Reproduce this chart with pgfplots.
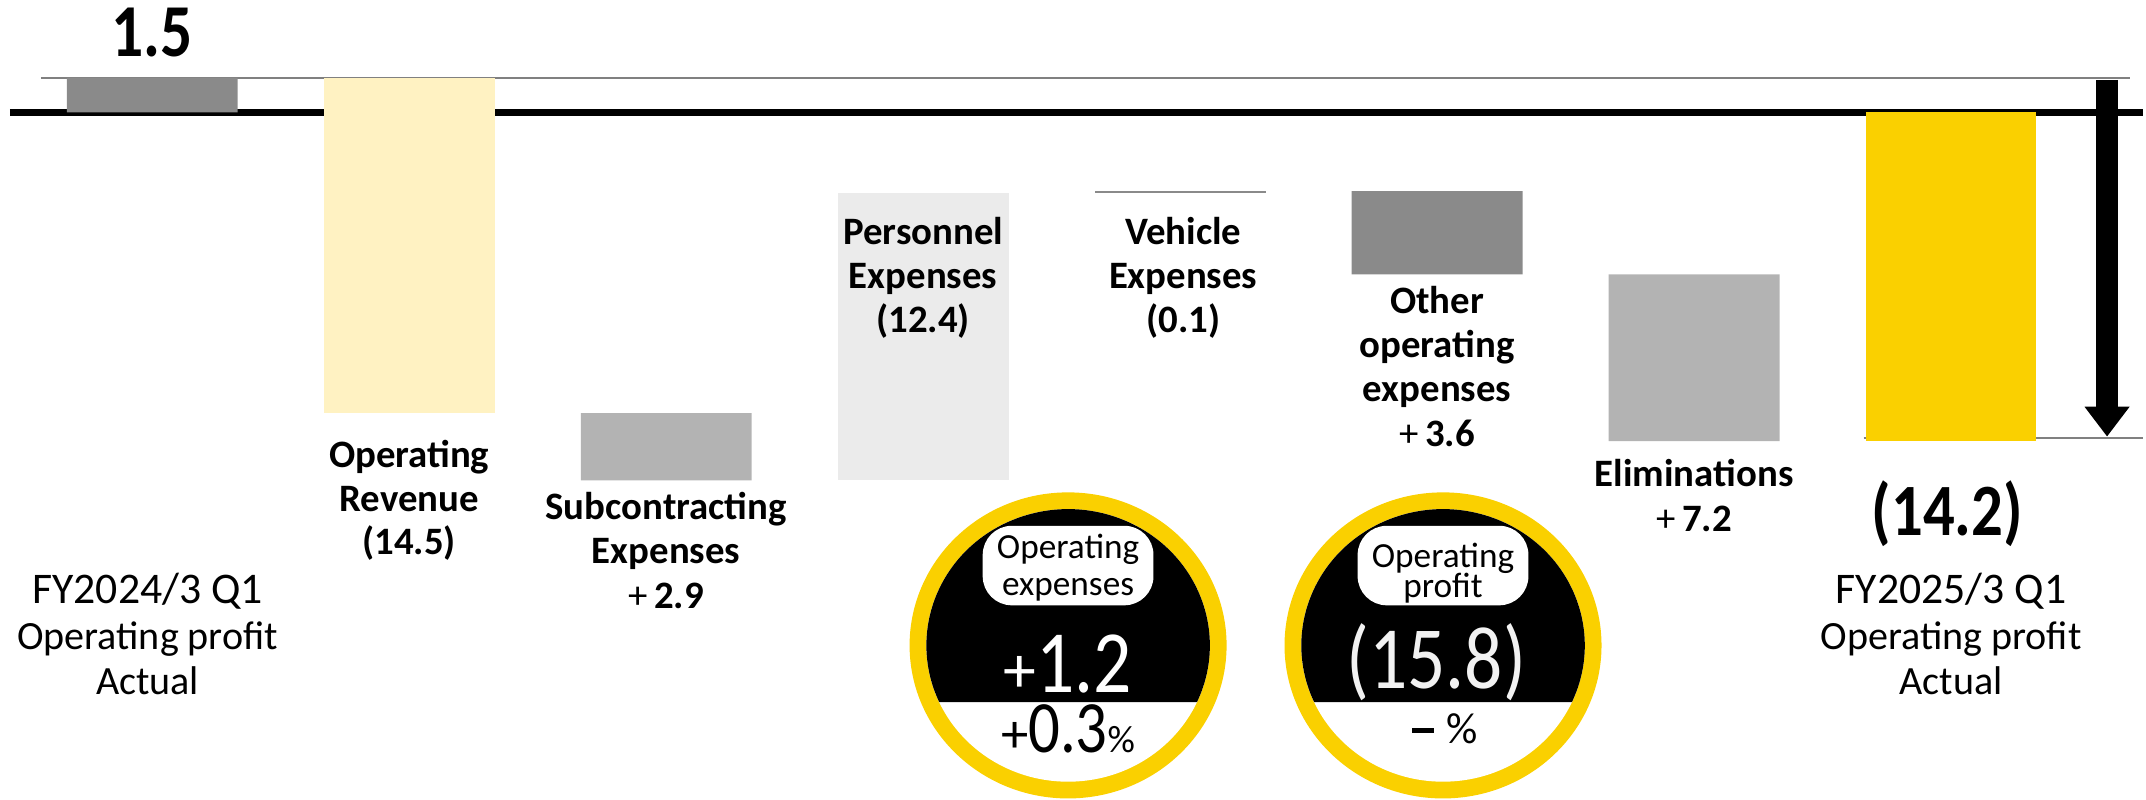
\documentclass[border=0pt]{standalone}
\usepackage{fontspec}
\setmainfont{Carlito}
\newfontfamily\narrowfont[FakeStretch=0.85]{Carlito}
\usepackage{pgfplots}
\pgfplotsset{compat=1.18}
\usetikzlibrary{arrows.meta}

\definecolor{dgray}{HTML}{8A8A8A}
\definecolor{mgray}{HTML}{B3B3B3}
\definecolor{lgray}{HTML}{EBEBEB}
\definecolor{lyellow}{HTML}{FFF2C2}
\definecolor{yel}{HTML}{FAD000}
\definecolor{linegray}{HTML}{808080}
\definecolor{offwhite}{HTML}{F2F2F2}

\begin{document}
\begin{tikzpicture}[
  lab/.style={anchor=base, font=\fontsize{21.3pt}{25pt}\selectfont\bfseries},
  fyl/.style={anchor=base, font=\fontsize{24pt}{28pt}\selectfont},
  opl/.style={anchor=base, font=\fontsize{22pt}{26pt}\selectfont},
  pill/.style={anchor=base, inner sep=0pt, font=\fontsize{19.35pt}{23pt}\selectfont},
]
\begin{axis}[
  width=1176pt, height=438.75pt, scale only axis,
  xmin=0.4077, xmax=8.745, ymin=-29.68, ymax=4.852,
  hide axis, clip=false,
  ybar stacked, bar width=93.75pt,
]
% invisible base (top end of each floating bar below zero)
\addplot[draw=none, fill=none] coordinates {(1,0)(2,0)(3,-13.0)(4,-3.5)(5,-3.4)(6,-3.4)(7,-7.0)(8,0)};
% FY2024/3 Q1 actual 1.5, other operating expenses +3.6
\addplot[draw=none, fill=dgray] coordinates {(1,1.5)(2,0)(3,0)(4,0)(5,0)(6,-3.6)(7,0)(8,0)};
% operating revenue (14.5): from 1.5 down to -13.0
\addplot[draw=none, fill=lyellow] coordinates {(1,0)(2,1.5)(3,0)(4,0)(5,0)(6,0)(7,0)(8,0)};
\addplot[draw=none, fill=lyellow] coordinates {(1,0)(2,-13.0)(3,0)(4,0)(5,0)(6,0)(7,0)(8,0)};
% subcontracting +2.9, eliminations +7.2
\addplot[draw=none, fill=mgray] coordinates {(1,0)(2,0)(3,-2.9)(4,0)(5,0)(6,0)(7,-7.2)(8,0)};
% personnel (12.4)
\addplot[draw=none, fill=lgray] coordinates {(1,0)(2,0)(3,0)(4,-12.4)(5,0)(6,0)(7,0)(8,0)};
% vehicle (0.1)
\addplot[draw=none, fill=dgray] coordinates {(1,0)(2,0)(3,0)(4,0)(5,-0.1)(6,0)(7,0)(8,0)};
% FY2025/3 Q1 actual (14.2)
\addplot[draw=none, fill=yel] coordinates {(1,0)(2,0)(3,0)(4,0)(5,0)(6,0)(7,0)(8,-14.2)};

% reference lines and arrow
\draw[linegray, line width=1.1pt] (axis cs:0.5667,1.5) -- (axis cs:8.697,1.5);
\draw[black, line width=3.84pt] (axis cs:0.446,0) -- (axis cs:8.745,0);
\draw[linegray, line width=1.1pt] (axis cs:7.66,-14.05) -- (axis cs:8.745,-14.05);
\draw[black, line width=11.8pt, -{Triangle[width=23.6pt,length=16.4pt]}] (axis cs:8.607,1.40) -- (axis cs:8.607,-14.01);

% values and labels
\node[anchor=base, font=\narrowfont\fontsize{41pt}{48pt}\selectfont\bfseries] at (axis cs:1,2.41) {1.5};
\node[lab] at (axis cs:2,-15.34) {Operating};
\node[lab] at (axis cs:2,-17.23) {Revenue};
\node[lab] at (axis cs:2,-19.11) {(14.5)};
\node[lab] at (axis cs:3,-17.60) {Subcontracting};
\node[lab] at (axis cs:3,-19.51) {Expenses};
\node[lab] at (axis cs:3,-21.43) {{\mdseries+}\,2.9};
\node[lab] at (axis cs:5.012,-5.71) {Vehicle};
\node[lab] at (axis cs:5.012,-7.59) {Expenses};
\node[lab] at (axis cs:5.012,-9.53) {(0.1)};
\node[lab] at (axis cs:6,-8.67) {Other};
\node[lab] at (axis cs:6,-10.59) {operating};
\node[lab] at (axis cs:6,-12.50) {expenses};
\node[lab] at (axis cs:6,-14.42) {{\mdseries+}\,3.6};
\node[lab] at (axis cs:7,-16.16) {Eliminations};
\node[lab] at (axis cs:7,-18.09) {{\mdseries+}\,7.2};
\node[anchor=base, font=\narrowfont\fontsize{40.5pt}{48pt}\selectfont\bfseries] at (axis cs:7.985,-18.29) {(14.2)};

\node[fyl] at (axis cs:0.982,-21.2) {FY2024/3 Q1};
\node[opl] at (axis cs:0.982,-23.19) {Operating profit};
\node[opl] at (axis cs:0.982,-25.14) {Actual};
\node[fyl] at (axis cs:8.0,-21.2) {FY2025/3 Q1};
\node[opl] at (axis cs:8.0,-23.19) {Operating profit};
\node[opl] at (axis cs:8.0,-25.14) {Actual};

% points used after the axis (text over the personnel bar, badges)
\coordinate (pers) at (axis cs:4,-5.71);
\coordinate (b1) at (axis cs:4.564,-23.03);
\coordinate (b2) at (axis cs:6.023,-23.03);

\path (rel axis cs:0,0) rectangle (rel axis cs:1,1);
\end{axis}

% label lying on the personnel bar
\node[lab] at (pers) {Personnel};
\node[lab] at ([yshift=-23.89pt]pers) {Expenses};
\node[lab] at ([yshift=-48.54pt]pers) {(12.4)};

% badge: operating expenses
\fill[yel] (b1) ellipse [x radius=87pt, y radius=84pt];
\fill[white] (b1) ellipse [x radius=77.8pt, y radius=74.8pt];
\fill[black] (b1) ++(70.74pt,-31.13pt) arc[start angle=-24.6, end angle=204.6, x radius=77.8pt, y radius=74.8pt] -- cycle;
\node[fill=white, rounded corners=16pt, minimum width=93.75pt, minimum height=43.65pt, inner sep=0pt] at ([yshift=43.83pt]b1) {};
\node[pill] at ([yshift=47.52pt]b1) {Operating};
\node[pill] at ([yshift=27.32pt]b1) {expenses};
\node[anchor=base, inner sep=0pt, text=white] at ([yshift=-25.66pt]b1) {{\fontsize{36pt}{40pt}\selectfont+}{\narrowfont\fontsize{48.75pt}{56pt}\selectfont 1.2}};
\node[anchor=base, inner sep=0pt] at ([yshift=-58.57pt]b1) {{\fontsize{30pt}{34pt}\selectfont+}{\narrowfont\fontsize{40.5pt}{46pt}\selectfont 0.3}{\fontsize{21pt}{24pt}\selectfont\%}};

% badge: operating profit
\fill[yel] (b2) ellipse [x radius=87pt, y radius=84pt];
\fill[white] (b2) ellipse [x radius=77.8pt, y radius=74.8pt];
\fill[black] (b2) ++(70.74pt,-31.13pt) arc[start angle=-24.6, end angle=204.6, x radius=77.8pt, y radius=74.8pt] -- cycle;
\node[fill=white, rounded corners=16pt, minimum width=93.75pt, minimum height=43.65pt, inner sep=0pt] at ([yshift=43.83pt]b2) {};
\node[pill] at ([yshift=42.82pt]b2) {Operating};
\node[pill] at ([yshift=26.30pt]b2) {profit};
\node[anchor=base, inner sep=0pt, text=offwhite, font=\narrowfont\fontsize{48.75pt}{56pt}\selectfont] at ([xshift=-3.8pt, yshift=-23.76pt]b2) {(15.8)};
\node[anchor=base, inner sep=0pt] at ([xshift=1pt, yshift=-53.74pt]b2) {\rule[5.6pt]{12pt}{2.6pt}\hspace{6.5pt}{\fontsize{24pt}{28pt}\selectfont\%}};
\end{tikzpicture}
\end{document}
